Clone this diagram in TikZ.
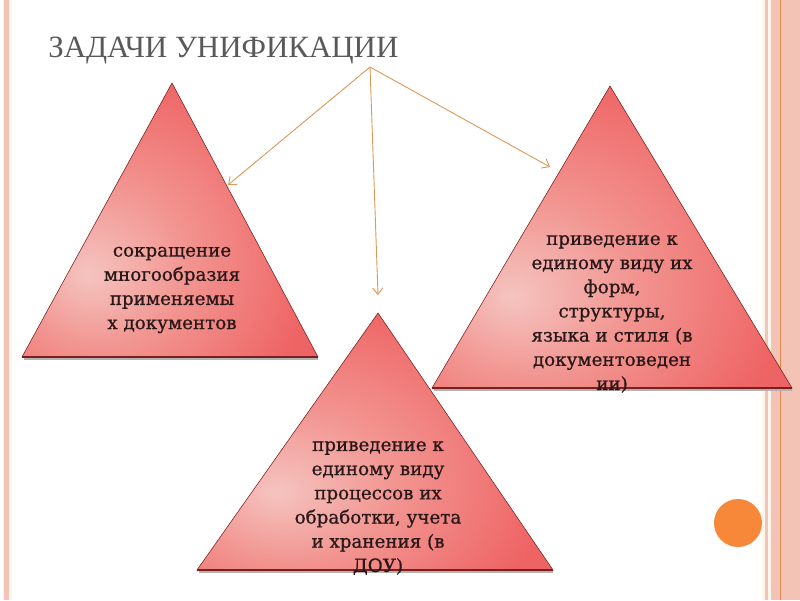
\documentclass[tikz,border=0pt]{standalone}
\usepackage{fontspec}
\setmainfont{DejaVu Serif}
\newfontfamily\titlefont{Liberation Serif}
\newfontfamily\trifont[FakeBold=0.8]{DejaVu Serif}
\usepackage{xcolor}
\usetikzlibrary{arrows.meta,positioning}
\definecolor{stripe}  {HTML}{F3C3B5}
\definecolor{cream}   {HTML}{FDF6EC}
\definecolor{stripeln}{HTML}{E8884E}
\definecolor{titlegray}{HTML}{595959}
\definecolor{tripale} {HTML}{F5C4C0}
\definecolor{trimid}  {HTML}{F29490}
\definecolor{trired}  {HTML}{EE6464}
\definecolor{triedge} {HTML}{7A1E1E}
\definecolor{txtdark} {HTML}{2A1818}
\definecolor{arrline} {HTML}{DC9858}
\definecolor{dotorange}{HTML}{F7883A}
\pgfdeclareradialshading{trifill}{\pgfpoint{-14bp}{-10bp}}{%
  color(0bp)=(tripale); color(15bp)=(trimid); color(34bp)=(trired); color(100bp)=(trired)}
\tikzset{
  tribody/.style ={shading=trifill, draw=triedge, line width=0.4pt, line join=miter},
  tribase/.style ={draw=triedge, line width=1.1pt},
  trishadow/.style={draw=black!30, line width=1.2pt},
  tritext/.style ={align=center, text=txtdark, font=\trifont\fontsize{13}{17.2}\selectfont},
  taskarr/.style ={-{Straight Barb[length=1.6mm,width=2.6mm]}, line width=0.65pt, color=arrline},
}
\begin{document}
\begin{tikzpicture}[x=0.025cm,y=-0.025cm]
    \useasboundingbox (0,0) rectangle (800,600);
    % Slide border
    \fill[cream] (3,0) rectangle (12,600);
    \fill[stripe] (4,0) rectangle (9,600);
    \fill[cream] (762,0) rectangle (800,600);
    \fill[stripe] (765,0) rectangle (768,600);
    \fill[stripe] (771,0) rectangle (800,600);
    \draw[stripeln,line width=0.6pt] (780,0) -- (780,600);

    % Title
    \node[anchor=base west,inner sep=0pt,text=titlegray,
          font=\titlefont\fontsize{22}{24}\selectfont] (title) at (48,57)
      {ЗАДАЧИ УНИФИКАЦИИ};

    % Triangles
    \coordinate (lefttop) at (172,83);
    \coordinate (righttop) at (610,86);
    \coordinate (midtop) at (378,313);
    \draw[trishadow] (24,359) -- (318,359);
    \draw[trishadow] (434,390) -- (792,390);
    \draw[trishadow] (199,572) -- (553,572);
    \shade[tribody] (lefttop) -- (318,357) -- (22,357) -- cycle;
    \shade[tribody] (righttop) -- (792,388) -- (432,388) -- cycle;
    \shade[tribody] (midtop) -- (553,570) -- (197,570) -- cycle;
    \draw[tribase] (22,357) -- (318,357);
    \draw[tribase] (432,388) -- (792,388);
    \draw[tribase] (197,570) -- (553,570);

    % Texts
    \node[tritext] (reduce) at (172,290)
      {сокращение\\многообразия\\применяемы\\х документов};
    \node[tritext] (forms) at (612,314)
      {приведение к\\единому виду их\\форм,\\структуры,\\языка и стиля (в\\документоведен\\ии)};
    \node[tritext] (process) at (378,508)
      {приведение к\\единому виду\\процессов их\\обработки, учета\\и хранения (в\\ДОУ)};

    % Arrows
    \coordinate (hub) at (370,67);
    \coordinate (lefttip) at (228,185);
    \coordinate (midtip) at (378,295);
    \coordinate (righttip) at (550,167);
    \draw[taskarr] (hub) -- (lefttip);
    \draw[taskarr] (hub) -- (midtip);
    \draw[taskarr] (hub) -- (righttip);

    % Orange dot
    \fill[dotorange] (738,523) circle (24);
\end{tikzpicture}
\end{document}
